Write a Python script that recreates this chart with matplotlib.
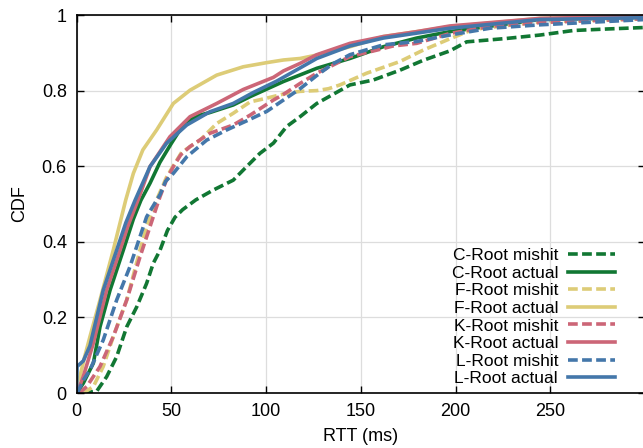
import matplotlib.pyplot as plt

plt.rcParams['font.family'] = ['Liberation Sans', 'DejaVu Sans']
plt.rcParams['font.size'] = 13

# RTT (ms) / CDF points
c_mishit_x = [3.6, 10.7, 15.9, 21.2, 26.5, 31.8, 37, 40.5, 44.1, 48, 52, 56, 63, 72.2, 82.7, 89.8, 96.8, 103.9, 110.9, 118, 126.8, 144.3, 156.6, 170.7, 182.9, 197, 205.9, 227, 244.6, 262.2, 280, 300]
c_mishit_y = [0, 0.005, 0.043, 0.096, 0.175, 0.228, 0.29, 0.343, 0.378, 0.43, 0.465, 0.485, 0.511, 0.537, 0.563, 0.599, 0.634, 0.661, 0.705, 0.731, 0.766, 0.815, 0.828, 0.854, 0.88, 0.905, 0.929, 0.938, 0.947, 0.959, 0.963, 0.967]

c_actual_x = [0, 1.5, 3.6, 8.9, 12.4, 17.7, 24.7, 30, 34, 38.8, 44, 50, 57, 65, 70.4, 82.7, 91.6, 109.2, 126.8, 144.3, 161.9, 179.5, 197, 244.6, 300]
c_actual_y = [0, 0.01, 0.026, 0.079, 0.175, 0.272, 0.378, 0.46, 0.51, 0.555, 0.61, 0.66, 0.715, 0.735, 0.742, 0.762, 0.784, 0.824, 0.859, 0.885, 0.916, 0.939, 0.956, 0.988, 0.994]

f_mishit_x = [3.6, 8.9, 14.1, 19.4, 26.5, 33.5, 37, 42.3, 47.6, 55.5, 65.2, 74, 82.7, 91.6, 100.4, 110.9, 118, 126.8, 133, 139, 153.1, 170.7, 182.9, 197, 209.4, 244.6, 300]
f_mishit_y = [0, 0.017, 0.07, 0.149, 0.246, 0.378, 0.44, 0.511, 0.572, 0.637, 0.669, 0.713, 0.74, 0.77, 0.78, 0.793, 0.798, 0.80, 0.805, 0.815, 0.846, 0.877, 0.907, 0.937, 0.962, 0.982, 0.99]

f_actual_x = [0, 0.3, 1.8, 4, 7.1, 12.4, 19.4, 26, 30, 35, 42.3, 51.1, 59.9, 74, 88, 100.4, 109.2, 118, 126.8, 144.3, 161.9, 179.5, 197, 244.6, 300]
f_actual_y = [0, 0.03, 0.043, 0.09, 0.149, 0.246, 0.378, 0.511, 0.581, 0.643, 0.696, 0.766, 0.801, 0.841, 0.863, 0.874, 0.881, 0.885, 0.894, 0.916, 0.943, 0.956, 0.969, 0.991, 0.996]

k_mishit_x = [1.5, 5.4, 12.4, 19.4, 26.5, 33.5, 40.5, 44.1, 47.6, 51.1, 55, 59.9, 70.4, 82.7, 91.6, 103.9, 109.2, 118, 126.8, 144.3, 158.4, 167, 179.5, 197, 218.2, 244.6, 300]
k_mishit_y = [0, 0.017, 0.07, 0.149, 0.246, 0.36, 0.466, 0.52, 0.565, 0.599, 0.63, 0.652, 0.687, 0.709, 0.735, 0.775, 0.79, 0.819, 0.846, 0.89, 0.907, 0.918, 0.925, 0.951, 0.97, 0.98, 0.99]

k_actual_x = [0, 1, 3.6, 8.9, 15.9, 23, 27, 32.5, 38.8, 49.3, 59.9, 74, 88, 103.9, 109.2, 118, 126.8, 144.3, 161.9, 179.5, 197, 244.6, 300]
k_actual_y = [0, 0.01, 0.044, 0.132, 0.272, 0.378, 0.44, 0.511, 0.599, 0.678, 0.731, 0.766, 0.803, 0.835, 0.852, 0.872, 0.895, 0.925, 0.943, 0.956, 0.971, 0.991, 0.997]

l_mishit_x = [0.5, 3.6, 7.1, 14.1, 21.2, 28.2, 37, 44.1, 47, 51.1, 58.2, 68.7, 79.3, 89.8, 100.4, 109.2, 118, 126.8, 135, 144.3, 161.9, 179.5, 197, 218.2, 244.6, 300]
l_mishit_y = [0, 0.034, 0.061, 0.14, 0.246, 0.334, 0.466, 0.525, 0.56, 0.581, 0.625, 0.669, 0.696, 0.72, 0.745, 0.775, 0.805, 0.84, 0.87, 0.895, 0.921, 0.93, 0.947, 0.965, 0.974, 0.988]

l_actual_x = [0, 0.3, 3.6, 7.1, 14.1, 21.2, 26, 31, 38.8, 47.6, 58.2, 70.4, 82.7, 93.3, 105.6, 118, 126.8, 144.3, 161.9, 179.5, 197, 244.6, 300]
l_actual_y = [0, 0.07, 0.085, 0.125, 0.272, 0.378, 0.45, 0.511, 0.599, 0.661, 0.709, 0.744, 0.766, 0.795, 0.825, 0.86, 0.885, 0.918, 0.939, 0.952, 0.965, 0.988, 0.993]

series = [
    ("C-Root mishit", c_mishit_x, c_mishit_y, "#117733", "dash"),
    ("C-Root actual", c_actual_x, c_actual_y, "#117733", "solid"),
    ("F-Root mishit", f_mishit_x, f_mishit_y, "#DDCC77", "dash"),
    ("F-Root actual", f_actual_x, f_actual_y, "#DDCC77", "solid"),
    ("K-Root mishit", k_mishit_x, k_mishit_y, "#CC6677", "dash"),
    ("K-Root actual", k_actual_x, k_actual_y, "#CC6677", "solid"),
    ("L-Root mishit", l_mishit_x, l_mishit_y, "#4477AA", "dash"),
    ("L-Root actual", l_actual_x, l_actual_y, "#4477AA", "solid"),
]

fig = plt.figure(figsize=(6.43, 4.48), dpi=100)
# right edge of the axes falls just past the picture, as in the original crop
ax = fig.add_axes([76.5 / 643, 1 - 393 / 448, 568.5 / 643, 378 / 448])

for name, xs, ys, col, st in series:
    ls = (0, (2.7, 1.2)) if st == "dash" else "-"
    ax.plot(xs, ys, color=col, lw=2.6, linestyle=ls, label=name)

ax.set_xlim(0, 300)
ax.set_ylim(0, 1)
ax.set_xticks([0, 50, 100, 150, 200, 250])
ax.set_yticks([0, 0.2, 0.4, 0.6, 0.8, 1])
ax.set_yticklabels(["0", "0.2", "0.4", "0.6", "0.8", "1"])
ax.grid(color="#dddddd", linewidth=0.9)
ax.set_axisbelow(True)
ax.tick_params(direction="in", top=True, right=True, length=5, width=1, pad=7)
for s in ax.spines.values():
    s.set_linewidth(1.2)
ax.set_xlabel("RTT (ms)", labelpad=6)
ax.set_ylabel("CDF", labelpad=10)

ax.legend(loc="lower right", bbox_to_anchor=(624 / 643, 1 - 395 / 448),
          bbox_transform=fig.transFigure, frameon=False, markerfirst=False,
          handlelength=2.7, handletextpad=0.6, labelspacing=0.14, borderpad=0,
          fontsize=12.5)

plt.savefig("out.png", dpi=100)
